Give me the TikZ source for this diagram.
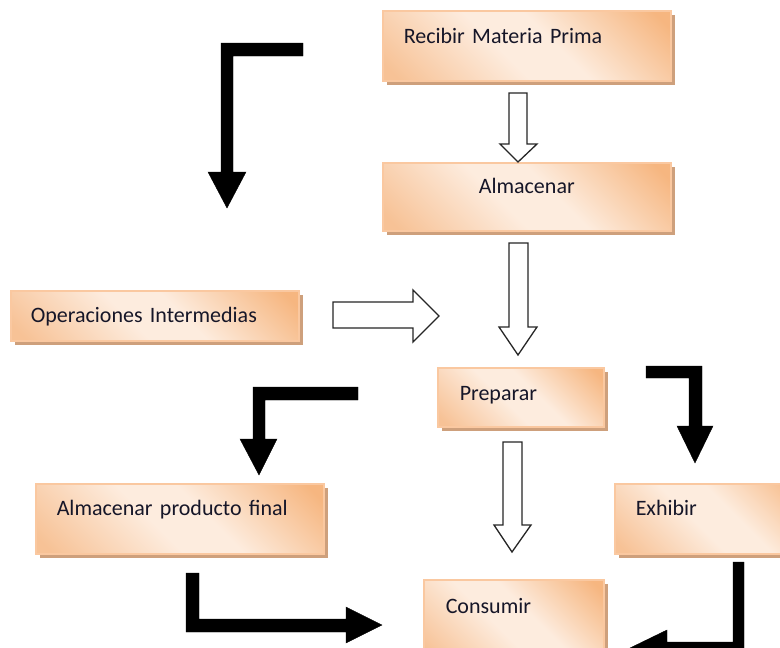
\documentclass[tikz,border=0pt]{standalone}
\usepackage{fontspec}
\setmainfont{Carlito}
\usetikzlibrary{shadows}
\definecolor{boxorange}{RGB}{246,182,128}
\definecolor{boxlight}{RGB}{253,236,222}
\definecolor{boxmid}{RGB}{247,194,150}
\definecolor{boxborder}{RGB}{250,200,160}
\definecolor{boxshadow}{RGB}{206,160,124}
\definecolor{textdark}{RGB}{22,22,40}
\pgfdeclareverticalshading{boxshade}{100bp}{color(0bp)=(boxmid); color(18bp)=(boxmid); color(44bp)=(boxlight); color(56bp)=(boxlight); color(82bp)=(boxorange); color(100bp)=(boxorange)}
\tikzset{
  procbox/.style={rectangle, anchor=north west, inner ysep=0pt,
    draw=boxborder, line width=1.5pt,
    shading=boxshade, shading angle=-45,
    drop shadow={shadow xshift=4pt, shadow yshift=-4pt, fill=boxshadow, opacity=1},
    font=\fontsize{22}{26}\selectfont, text=textdark},
  blockarrow/.style={fill=black, draw=black, line width=0.4pt, line join=miter},
  hollowarrow/.style={fill=white, draw=black!85, line width=1.3pt, line join=miter}
}
\begin{document}
\begin{tikzpicture}[x=1pt,y=-1pt]
\useasboundingbox (0,0) rectangle (780,648);
\clip (0,0) rectangle (780,648);
\fill[white] (0,0) rectangle (780,648);

% boxes
\node[procbox, inner xsep=21pt, text width=246pt, align=left, text height=33pt, text depth=37pt]
  (rec) at (382,10) {Recibir Materia Prima};
\node[procbox, inner xsep=21pt, text width=246pt, align=center, text height=31pt, text depth=37pt]
  (alm) at (382,162) {Almacenar};
\node[procbox, inner xsep=20pt, text width=248pt, align=left, text height=32pt, text depth=18pt]
  (ope) at (10,290) {Operaciones Intermedias};
\node[procbox, inner xsep=22pt, text width=122pt, align=left, text height=33pt, text depth=26pt]
  (pre) at (437,367) {Preparar};
\node[procbox, inner xsep=21pt, text width=246pt, align=left, text height=32pt, text depth=38pt]
  (apf) at (35,483) {Almacenar producto final};
\node[procbox, inner xsep=21pt, text width=160pt, align=left, text height=32pt, text depth=38pt]
  (exh) at (614,483) {Exhibir};
\node[procbox, inner xsep=22pt, text width=136pt, align=left, text height=34pt, text depth=47pt]
  (con) at (423,579) {Consumir};

% hollow arrows
\draw[hollowarrow] (509,93) -- (527,93) -- (527,144) -- (537,144) -- (518,162) -- (500,144) -- (509,144) -- cycle;
\draw[hollowarrow] (509,243) -- (528,243) -- (528,327) -- (537,327) -- (518,355) -- (499,327) -- (509,327) -- cycle;
\draw[hollowarrow] (333,302) -- (413,302) -- (413,290) -- (439,316) -- (413,342) -- (413,328) -- (333,328) -- cycle;
\draw[hollowarrow] (503,442) -- (522,442) -- (522,525) -- (531,525) -- (512,552) -- (494,525) -- (503,525) -- cycle;

% black L-shaped arrows
\filldraw[blockarrow] (303,43) -- (221,43) -- (221,172) -- (208,172) -- (227,208) -- (246,172) -- (233,172) -- (233,56) -- (303,56) -- cycle;
\filldraw[blockarrow] (358,387) -- (253,387) -- (253,439) -- (240,439) -- (259,475) -- (277,439) -- (265,439) -- (265,400) -- (358,400) -- cycle;
\filldraw[blockarrow] (186,573) -- (186,632) -- (346,632) -- (346,643) -- (382,625) -- (346,607) -- (346,619) -- (199,619) -- (199,573) -- cycle;
\filldraw[blockarrow] (646,366) -- (702,366) -- (702,426) -- (713,426) -- (695,463) -- (677,426) -- (689,426) -- (689,378) -- (646,378) -- cycle;
\filldraw[blockarrow] (744,562) -- (744,655) -- (667,655) -- (667,667) -- (630,648) -- (667,630) -- (667,642) -- (733,642) -- (733,562) -- cycle;
\end{tikzpicture}
\end{document}
